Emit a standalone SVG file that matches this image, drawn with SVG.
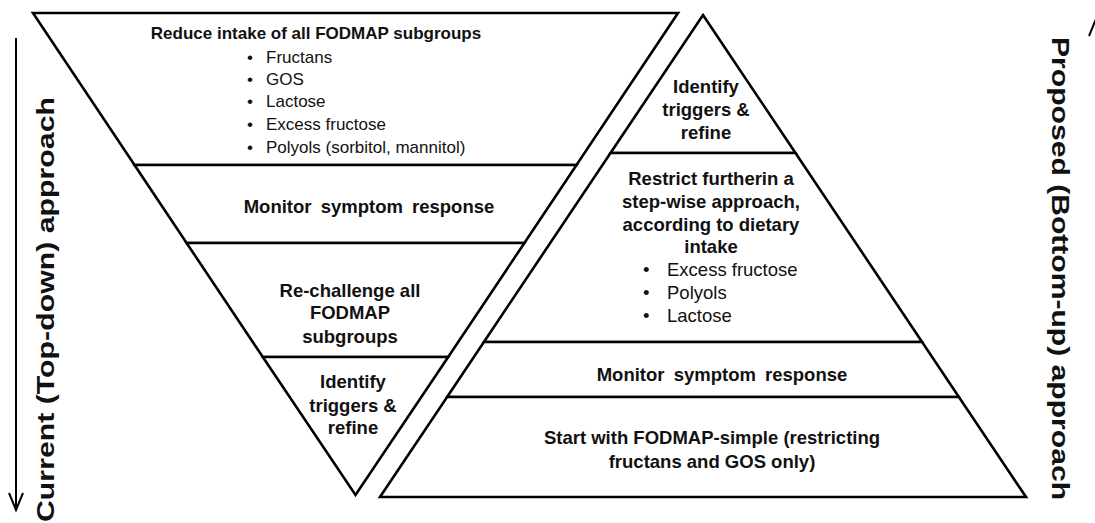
<svg xmlns="http://www.w3.org/2000/svg" width="1095" height="523" viewBox="0 0 1095 523">
<style>
.seg{fill:#fff;stroke:#000;stroke-width:2.6;stroke-linejoin:miter}
.b{font-family:"Liberation Sans",Arial,sans-serif;font-weight:bold;font-size:18.5px;fill:#111;text-anchor:middle}
.r{font-family:"Liberation Sans",Arial,sans-serif;font-size:17px;fill:#111}
.r2{font-family:"Liberation Sans",Arial,sans-serif;font-size:18.5px;fill:#111}
.side{font-family:"Liberation Sans",Arial,sans-serif;font-weight:bold;font-size:23px;fill:#111;text-anchor:middle}
.arr{fill:none;stroke:#000;stroke-width:2;stroke-linecap:butt}
</style>
<rect width="1095" height="523" fill="#fff"/>
<g id="connectors">
<path class="arr" d="M16,38 V509 M9,493 L16,510 L23,493"/>
<path class="arr" d="M1097,20 V509 M1089,36 L1096,19 L1103,36"/>
</g>
<g id="current-reduce">
<polygon class="seg" points="33,13 678,13 576.5,165 134.5,165"/>
<text class="b" x="316" y="39" style="font-size:17px">Reduce intake of all FODMAP subgroups</text>
<text class="r" x="247" y="63">•</text><text class="r" x="266" y="63">Fructans</text>
<text class="r" x="247" y="85">•</text><text class="r" x="266" y="85">GOS</text>
<text class="r" x="247" y="107">•</text><text class="r" x="266" y="107">Lactose</text>
<text class="r" x="247" y="130">•</text><text class="r" x="266" y="130">Excess fructose</text>
<text class="r" x="247" y="153">•</text><text class="r" x="266" y="153">Polyols (sorbitol, mannitol)</text>
</g>
<g id="current-monitor">
<polygon class="seg" points="134.5,165 576.5,165 524.4,243 186.6,243"/>
<text class="b" x="369" y="213" style="word-spacing:4px">Monitor symptom response</text>
</g>
<g id="current-rechallenge">
<polygon class="seg" points="186.6,243 524.4,243 448.2,357 262.8,357"/>
<text class="b" x="350" y="297">Re-challenge all</text>
<text class="b" x="350" y="319">FODMAP</text>
<text class="b" x="350" y="343">subgroups</text>
</g>
<g id="current-identify">
<polygon class="seg" points="262.8,357 448.2,357 355.5,495"/>
<text class="b" x="353" y="388">Identify</text>
<text class="b" x="353" y="412">triggers &amp;</text>
<text class="b" x="353" y="434">refine</text>
</g>
<g id="proposed-identify">
<polygon class="seg" points="703,15 795.5,153 610.5,153"/>
<text class="b" x="706" y="93">Identify</text>
<text class="b" x="706" y="116">triggers &amp;</text>
<text class="b" x="706" y="139">refine</text>
</g>
<g id="proposed-restrict">
<polygon class="seg" points="610.5,153 795.5,153 922.1,342 483.9,342"/>
<text class="b" x="711" y="185">Restrict furtherin a</text>
<text class="b" x="711" y="208">step-wise approach,</text>
<text class="b" x="711" y="231">according to dietary</text>
<text class="b" x="711" y="253">intake</text>
<text class="r2" x="643" y="276">•</text><text class="r2" x="667" y="276">Excess fructose</text>
<text class="r2" x="643" y="299">•</text><text class="r2" x="667" y="299">Polyols</text>
<text class="r2" x="643" y="322">•</text><text class="r2" x="667" y="322">Lactose</text>
</g>
<g id="proposed-monitor">
<polygon class="seg" points="483.9,342 922.1,342 958.9,397 447.1,397"/>
<text class="b" x="722" y="381" style="word-spacing:4px">Monitor symptom response</text>
</g>
<g id="proposed-start">
<polygon class="seg" points="447.1,397 958.9,397 1026,497 380,497"/>
<text class="b" x="712" y="444">Start with FODMAP-simple (restricting</text>
<text class="b" x="712" y="468">fructans and GOS only)</text>
</g>
<g id="label-current">
<text class="side" transform="translate(54,309.5) rotate(-90)" textLength="425" lengthAdjust="spacingAndGlyphs">Current (Top-down) approach</text>
</g>
<g id="label-proposed">
<text class="side" transform="translate(1052,268.5) rotate(90)" textLength="463" lengthAdjust="spacingAndGlyphs">Proposed (Bottom-up) approach</text>
</g>
</svg>
